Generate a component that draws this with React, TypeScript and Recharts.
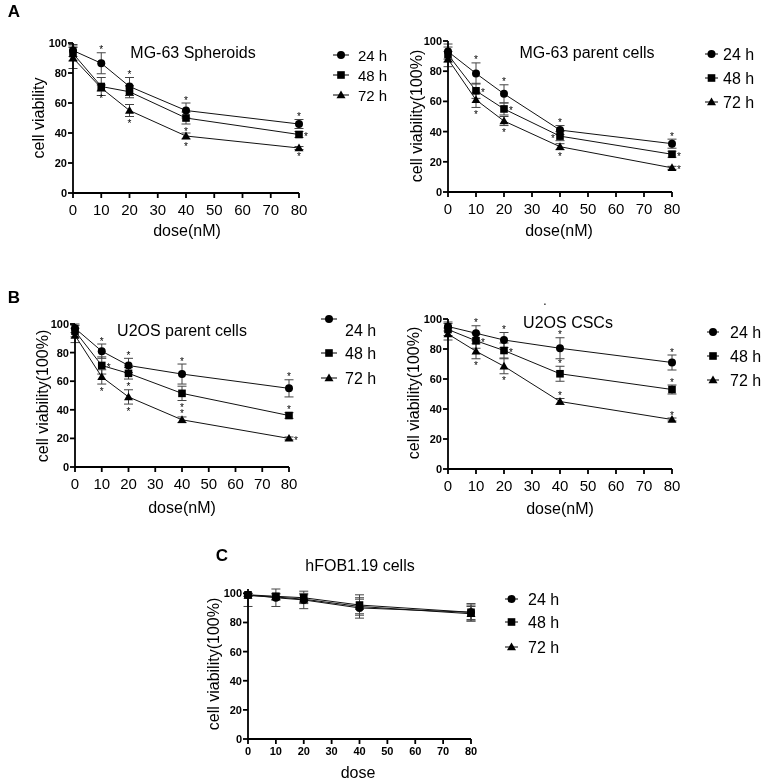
import React from "react";
import { ComposedChart, Line, Scatter, XAxis, YAxis, ErrorBar } from "recharts";

const FONT = "'Liberation Sans', Arial, Helvetica, sans-serif";

const doses = [0, 10, 20, 40, 80];
const xTicks = [0, 10, 20, 30, 40, 50, 60, 70, 80];
const yTicks = [0, 20, 40, 60, 80, 100];
const hours = ["24 h", "48 h", "72 h"];
const kinds = ["circle", "square", "triangle"];

// star placement per point: a = above, b = below, r = right, l = left, - = none
// A - MG-63 spheroids
const sph24 = [95, 86.5, 71, 55, 46];
const sph24Err = [4, 7, 6, 5, 3];
const sph24Stars = "-aaaa";
const sph48 = [93, 71, 67.5, 50, 39];
const sph48Err = [5, 6, 4, 4, 2];
const sph48Stars = "---br";
const sph72 = [90, 70, 55, 38, 30];
const sph72Err = [7, 2, 4, 2, 1];
const sph72Stars = "-bbbb";

// A - MG-63 parent cells
const mgp24 = [93, 78.5, 65, 41, 32];
const mgp24Err = [5, 7, 6, 3, 3];
const mgp24Stars = "-aaaa";
const mgp48 = [91, 67, 55, 37, 25];
const mgp48Err = [5, 5, 4, 3, 2];
const mgp48Stars = "-rrlr";
const mgp72 = [88, 61, 47, 30, 16];
const mgp72Err = [5, 5, 3, 2, 1];
const mgp72Stars = "-bbbr";

// B - U2OS parent cells
const u2p24 = [97, 81, 71, 65, 55];
const u2p24Err = [3, 5, 5, 7, 6];
const u2p24Stars = "-aaaa";
const u2p48 = [95, 71, 65.5, 51.5, 36];
const u2p48Err = [4, 6, 4, 5, 2];
const u2p48Stars = "-rbba";
const u2p72 = [92, 63, 49, 33, 20];
const u2p72Err = [5, 5, 5, 2, 1];
const u2p72Stars = "-bbar";

// B - U2OS CSCs
const csc24 = [95, 90.5, 86, 80.5, 71];
const csc24Err = [3, 5, 5, 7, 5];
const csc24Stars = "-aaaa";
const csc48 = [93, 85.5, 79, 63.5, 53];
const csc48Err = [4, 5, 5, 5, 3];
const csc48Stars = "-rraa";
const csc72 = [90, 78.5, 68.5, 45, 33];
const csc72Err = [4, 5, 5, 2, 1];
const csc72Stars = "-bbaa";

// C - hFOB1.19 cells
const hf24 = [99, 97, 95.5, 90, 87];
const hf24Err: (number | number[])[] = [1, 6, 6, 7, 5];
const hf48 = [99, 98, 97, 92, 87];
const hf48Err: (number | number[])[] = [1, 2, 3, 7, 6];
const hf72 = [98.5, 97.5, 96, 91, 86];
const hf72Err: (number | number[])[] = [[7.5, 1.5], 2, 3, 5, 5];

type Series = { v: number[]; e: (number | number[])[]; stars: string };
type PanelCfg = {
  plot: [number, number, number, number];
  series: Series[];
  boldX?: boolean;
};

function buildRows(series: Series[]) {
  return doses.map((d, i) => {
    const row: any = { dose: d };
    series.forEach((s, k) => {
      row[`v${k}`] = s.v[i];
      row[`e${k}`] = s.e[i];
    });
    return row;
  });
}

function buildStars(series: Series[]) {
  const out: any[] = [];
  series.forEach((s) =>
    s.stars.split("").forEach((p, i) => {
      if (p === "-") return;
      const e = s.e[i];
      const lo = Array.isArray(e) ? e[0] : e;
      const hi = Array.isArray(e) ? e[1] : e;
      const sy = p === "a" ? s.v[i] + hi : p === "b" ? s.v[i] - lo : s.v[i];
      out.push({ dose: doses[i], sy, pos: p });
    })
  );
  return out;
}

function Marker({ kind, cx, cy }: { kind: string; cx: number; cy: number }) {
  if (cx == null || cy == null) return null;
  if (kind === "circle") return <circle cx={cx} cy={cy} r={4} fill="#000" />;
  if (kind === "square") return <rect x={cx - 3.8} y={cy - 3.8} width={7.6} height={7.6} fill="#000" />;
  return <polygon points={`${cx},${cy - 4.5} ${cx + 4.5},${cy + 3.2} ${cx - 4.5},${cy + 3.2}`} fill="#000" />;
}

const Star = (p: any) => {
  const pos = p.payload?.pos;
  const dx = pos === "r" ? 7 : pos === "l" ? -7 : 0;
  const dy = pos === "a" ? -5 : pos === "b" ? 5 : 0;
  return (
    <text
      x={p.cx + dx}
      y={p.cy + dy + 5.5}
      textAnchor="middle"
      fontSize={10}
      fontFamily={FONT}
      fill="#000"
    >
      *
    </text>
  );
};

function Panel({ cfg }: { cfg: PanelCfg }) {
  const [x0, x1, y0, y1] = cfg.plot;
  const YW = 45;
  const MT = 10;
  const MR = 16;
  const XH = 34;
  const width = x1 - x0 + YW + MR;
  const height = y1 - y0 + MT + XH;
  const rows = buildRows(cfg.series);
  const stars = buildStars(cfg.series);
  const axis = { stroke: "#000", strokeWidth: 1.8 };
  const tickX = cfg.boldX
    ? { fontSize: 11, fontWeight: 700, fill: "#000" }
    : { fontSize: 15, fill: "#000" };
  return (
    <div style={{ position: "absolute", left: x0 - YW, top: y0 - MT }}>
      <ComposedChart
        width={width}
        height={height}
        data={rows}
        margin={{ top: MT, right: MR, left: 0, bottom: 0 }}
        style={{ fontFamily: FONT }}
      >
        <XAxis
          dataKey="dose"
          type="number"
          domain={[0, 80]}
          ticks={xTicks}
          interval={0}
          height={XH}
          tick={tickX}
          tickSize={5}
          tickMargin={cfg.boldX ? 3 : 6}
          axisLine={axis}
          tickLine={axis}
        />
        <YAxis
          type="number"
          domain={[0, 100]}
          ticks={yTicks}
          interval={0}
          width={YW}
          tick={{ fontSize: 11, fontWeight: 700, fill: "#000" }}
          tickSize={5}
          tickMargin={1}
          axisLine={axis}
          tickLine={axis}
        />
        {cfg.series.map((s, k) => (
          <Line
            key={k}
            dataKey={`v${k}`}
            stroke="#111"
            strokeWidth={1}
            isAnimationActive={false}
            activeDot={false}
            dot={(p: any) => <Marker key={`m${k}-${p.index}`} kind={kinds[k]} cx={p.cx} cy={p.cy} />}
          >
            <ErrorBar dataKey={`e${k}`} width={4.5} stroke="#444" strokeWidth={1} direction="y" />
          </Line>
        ))}
        {stars.length > 0 && (
          <Scatter data={stars} dataKey="sy" shape={Star} isAnimationActive={false} />
        )}
      </ComposedChart>
    </div>
  );
}

function Legend({ x0, x1, tx, rows, size, textDy = [0, 0, 0] }: any) {
  return (
    <g>
      {rows.map((y: number, k: number) => (
        <g key={k}>
          <line x1={x0} x2={x1} y1={y} y2={y} stroke="#000" strokeWidth={1} />
          <Marker kind={kinds[k]} cx={(x0 + x1) / 2} cy={y} />
          <text x={tx} y={y + textDy[k]} fontSize={size} dominantBaseline="central" fill="#000">
            {hours[k]}
          </text>
        </g>
      ))}
    </g>
  );
}

function Label({ x, y, children, size = 16, rotate = false, bold = false }: any) {
  return (
    <text
      transform={`translate(${x},${y})${rotate ? " rotate(-90)" : ""}`}
      textAnchor="middle"
      dominantBaseline="central"
      fontSize={size}
      fontWeight={bold ? 700 : 400}
      fill="#000"
    >
      {children}
    </text>
  );
}

const panels: PanelCfg[] = [
  {
    plot: [73, 299, 43, 193],
    series: [
      { v: sph24, e: sph24Err, stars: sph24Stars },
      { v: sph48, e: sph48Err, stars: sph48Stars },
      { v: sph72, e: sph72Err, stars: sph72Stars },
    ],
  },
  {
    plot: [448, 672, 41, 192],
    series: [
      { v: mgp24, e: mgp24Err, stars: mgp24Stars },
      { v: mgp48, e: mgp48Err, stars: mgp48Stars },
      { v: mgp72, e: mgp72Err, stars: mgp72Stars },
    ],
  },
  {
    plot: [75, 289, 324, 467],
    series: [
      { v: u2p24, e: u2p24Err, stars: u2p24Stars },
      { v: u2p48, e: u2p48Err, stars: u2p48Stars },
      { v: u2p72, e: u2p72Err, stars: u2p72Stars },
    ],
  },
  {
    plot: [448, 672, 319, 469],
    series: [
      { v: csc24, e: csc24Err, stars: csc24Stars },
      { v: csc48, e: csc48Err, stars: csc48Stars },
      { v: csc72, e: csc72Err, stars: csc72Stars },
    ],
  },
  {
    plot: [248, 471, 589, 739],
    boldX: true,
    series: [
      { v: hf24, e: hf24Err, stars: "-----" },
      { v: hf48, e: hf48Err, stars: "-----" },
      { v: hf72, e: hf72Err, stars: "-----" },
    ],
  },
];

export default function App() {
  return (
    <div
      style={{
        position: "absolute",
        left: 0,
        top: 0,
        width: 764,
        height: 781,
        background: "#fff",
        fontFamily: FONT,
        filter: "grayscale(1)",
      }}
    >
      {panels.map((p, i) => (
        <Panel key={i} cfg={p} />
      ))}
      <svg
        width={764}
        height={781}
        style={{ position: "absolute", left: 0, top: 0, pointerEvents: "none", fontFamily: FONT }}
      >
        <Label x={14} y={11} size={17} bold>A</Label>
        <Label x={14} y={297} size={17} bold>B</Label>
        <Label x={222} y={555} size={17} bold>C</Label>

        <Label x={193} y={52}>MG-63 Spheroids</Label>
        <Label x={38} y={118} rotate>cell viability</Label>
        <Label x={187} y={230}>dose(nM)</Label>
        <Legend x0={333} x1={349} tx={358} rows={[55, 75, 95]} size={15} />

        <Label x={587} y={52}>MG-63 parent cells</Label>
        <Label x={416} y={116} rotate>cell viability(100%)</Label>
        <Label x={559} y={230}>dose(nM)</Label>
        <Legend x0={705} x1={718} tx={723} rows={[54, 78, 102]} size={16} />

        <Label x={182} y={330}>U2OS parent cells</Label>
        <Label x={42} y={396} rotate>cell viability(100%)</Label>
        <Label x={182} y={507}>dose(nM)</Label>
        <Legend x0={321} x1={337} tx={345} rows={[319, 353, 378]} textDy={[11, 0, 0]} size={16} />

        <Label x={545} y={301} size={12}>.</Label>
        <Label x={568} y={322}>U2OS CSCs</Label>
        <Label x={413} y={393} rotate>cell viability(100%)</Label>
        <Label x={560} y={508}>dose(nM)</Label>
        <Legend x0={707} x1={719} tx={730} rows={[332, 356, 380]} size={16} />

        <Label x={360} y={565}>hFOB1.19 cells</Label>
        <Label x={213} y={664} rotate>cell viability(100%)</Label>
        <Label x={358} y={772}>dose</Label>
        <Legend x0={505} x1={518} tx={528} rows={[599, 622, 647]} size={16} />
      </svg>
    </div>
  );
}
